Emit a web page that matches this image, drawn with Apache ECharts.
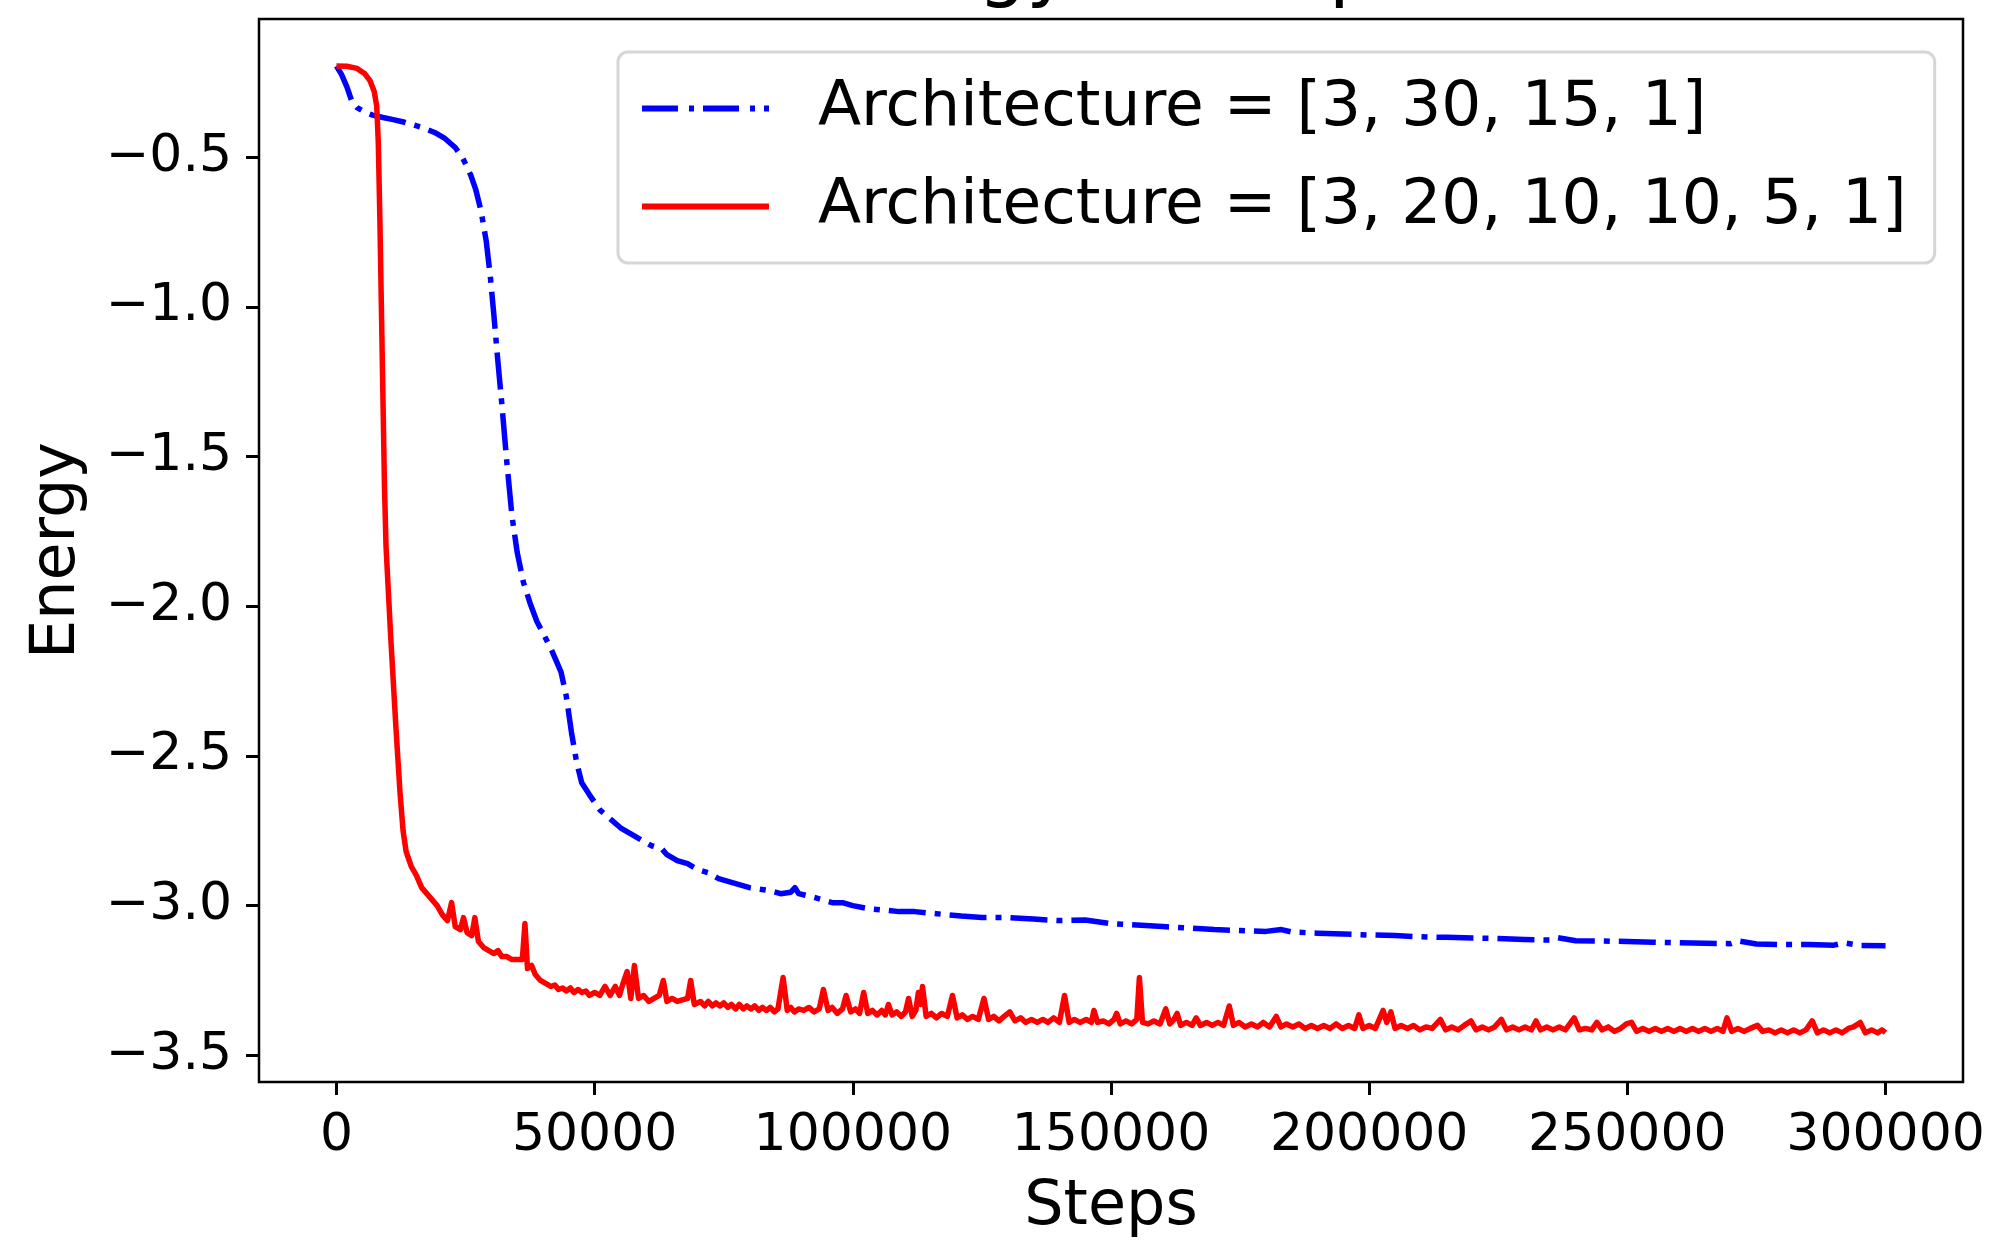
<!DOCTYPE html>
<html>
<head>
<meta charset="utf-8">
<script src="https://cdn.jsdelivr.net/npm/echarts@6/dist/echarts.min.js"></script>
<style>
  body { margin: 0; background: #fff; }
  #energyChart { width: 1999px; height: 1244px; }
</style>
</head>
<body>
<div id="energyChart"></div>
<script>
var xTicks = [0, 50000, 100000, 150000, 200000, 250000, 300000];
var yTicks = [-3.5, -3.0, -2.5, -2.0, -1.5, -1.0, -0.5];

var blueName = 'Architecture = [3, 30, 15, 1]';
var redName = 'Architecture = [3, 20, 10, 10, 5, 1]';

// [step, energy] for [3, 30, 15, 1]
var bluePoints = [
	[0, -0.196], [1000, -0.225], [2000, -0.265], [3000, -0.315], [4000, -0.335],
	[5500, -0.35], [7000, -0.36], [9000, -0.368], [11000, -0.375], [13000, -0.383],
	[15000, -0.393], [17000, -0.404], [19000, -0.418], [21000, -0.438], [23000, -0.468],
	[24500, -0.505], [26000, -0.56], [27000, -0.61], [28000, -0.68], [29000, -0.78],
	[29800, -0.9], [30500, -1.03], [31200, -1.17], [32000, -1.32], [33000, -1.52],
	[34000, -1.7], [35000, -1.82], [36200, -1.92], [37500, -1.99], [38800, -2.05],
	[40000, -2.09], [41500, -2.14], [42500, -2.18], [43500, -2.22], [44500, -2.3],
	[45500, -2.42], [46500, -2.52], [47500, -2.59], [49000, -2.63], [51000, -2.68],
	[53000, -2.71], [55000, -2.74], [57000, -2.76], [59000, -2.78], [61000, -2.8],
	[63000, -2.81], [64000, -2.83], [66000, -2.85], [68000, -2.86], [70000, -2.88],
	[72000, -2.89], [74000, -2.91], [76000, -2.92], [78000, -2.93], [80000, -2.94],
	[82000, -2.945], [84000, -2.95], [86000, -2.96], [88000, -2.955], [88800, -2.94],
	[89500, -2.96], [92000, -2.97], [94000, -2.98], [96000, -2.99], [98000, -2.99],
	[100000, -3.0], [103000, -3.01], [106000, -3.015], [109000, -3.02], [112000, -3.02],
	[115000, -3.025], [118000, -3.03], [121000, -3.035], [125000, -3.04], [130000, -3.04],
	[135000, -3.045], [140000, -3.05], [145000, -3.048], [150000, -3.06], [155000, -3.065],
	[160000, -3.07], [165000, -3.075], [170000, -3.08], [175000, -3.083], [180000, -3.086],
	[183000, -3.08], [185000, -3.088], [190000, -3.092], [195000, -3.095], [200000, -3.098],
	[205000, -3.1], [210000, -3.104], [215000, -3.106], [220000, -3.108], [225000, -3.11],
	[230000, -3.113], [235000, -3.115], [236500, -3.107], [240000, -3.117], [245000, -3.118],
	[250000, -3.12], [255000, -3.122], [260000, -3.124], [265000, -3.126], [270000, -3.127],
	[271500, -3.118], [275000, -3.128], [280000, -3.13], [285000, -3.13], [290000, -3.132],
	[292000, -3.124], [295000, -3.133], [300000, -3.134]
];

// [step, energy] for [3, 20, 10, 10, 5, 1]
var redPoints = [
	[0, -0.196], [2000, -0.197], [4000, -0.204], [5500, -0.222], [6500, -0.245],
	[7300, -0.28], [7800, -0.33], [8100, -0.45], [8400, -0.7], [8700, -1.0],
	[9000, -1.3], [9300, -1.6], [9600, -1.8], [10500, -2.1], [11500, -2.4],
	[12300, -2.62], [12900, -2.75], [13500, -2.82], [14500, -2.87], [15500, -2.9],
	[16500, -2.94], [17500, -2.96], [18500, -2.98], [19500, -3.0], [20500, -3.03],
	[21500, -3.05], [22300, -2.99], [23000, -3.07], [24000, -3.08], [24600, -3.04],
	[25300, -3.09], [26200, -3.1], [26800, -3.04], [27500, -3.12], [28500, -3.14],
	[29500, -3.15], [30500, -3.16], [31300, -3.15], [32000, -3.17], [33000, -3.17],
	[34000, -3.18], [35000, -3.18], [36000, -3.18], [36500, -3.06], [37000, -3.21],
	[37800, -3.2], [38500, -3.23], [39500, -3.25], [40500, -3.26], [41500, -3.27],
	[42300, -3.265], [43000, -3.28], [43800, -3.275], [44500, -3.285], [45300, -3.275],
	[46000, -3.29], [46800, -3.28], [47500, -3.29], [48300, -3.285], [49000, -3.3],
	[50000, -3.29], [51000, -3.3], [52000, -3.27], [53000, -3.3], [54000, -3.27],
	[54800, -3.3], [55500, -3.26], [56300, -3.22], [57000, -3.31], [57700, -3.2],
	[58500, -3.31], [59500, -3.3], [60500, -3.32], [61500, -3.31], [62500, -3.3],
	[63300, -3.25], [64000, -3.32], [65000, -3.31], [66000, -3.32], [67000, -3.315],
	[68000, -3.31], [68600, -3.25], [69300, -3.33], [70500, -3.32], [71300, -3.335],
	[72000, -3.32], [72800, -3.335], [73500, -3.325], [74300, -3.335], [75000, -3.325],
	[75800, -3.34], [76500, -3.33], [77300, -3.345], [78000, -3.33], [78800, -3.345],
	[79500, -3.335], [80300, -3.345], [81000, -3.335], [81800, -3.35], [82500, -3.34],
	[83300, -3.35], [84000, -3.34], [84800, -3.355], [85500, -3.345], [86500, -3.24],
	[87300, -3.35], [88000, -3.34], [88700, -3.355], [89500, -3.345], [90500, -3.35],
	[91500, -3.34], [92500, -3.355], [93500, -3.345], [94300, -3.28], [95200, -3.35],
	[96000, -3.34], [97000, -3.36], [98000, -3.345], [98700, -3.3], [99600, -3.355],
	[100500, -3.345], [101300, -3.36], [102100, -3.29], [102900, -3.36], [103800, -3.35],
	[104700, -3.365], [105600, -3.35], [106300, -3.365], [106900, -3.33], [107600, -3.365],
	[108500, -3.355], [109400, -3.37], [110200, -3.355], [110800, -3.31], [111500, -3.37],
	[112200, -3.35], [112700, -3.29], [113100, -3.33], [113500, -3.27], [114200, -3.37],
	[115200, -3.36], [116200, -3.375], [117200, -3.36], [118300, -3.37], [119300, -3.3],
	[120200, -3.375], [121200, -3.365], [122200, -3.38], [123200, -3.37], [124300, -3.38],
	[125400, -3.31], [126300, -3.38], [127300, -3.37], [128300, -3.385], [129300, -3.37],
	[130400, -3.355], [131400, -3.385], [132500, -3.375], [133500, -3.39], [134600, -3.38],
	[135700, -3.39], [136800, -3.38], [137800, -3.39], [138900, -3.375], [140000, -3.39],
	[141000, -3.3], [141900, -3.39], [142900, -3.38], [144000, -3.39], [145200, -3.38],
	[146200, -3.39], [146700, -3.35], [147400, -3.39], [148500, -3.385], [149600, -3.395],
	[150600, -3.38], [151100, -3.36], [151800, -3.395], [152900, -3.385], [154000, -3.395],
	[155000, -3.38], [155500, -3.24], [156100, -3.39], [157200, -3.395], [158300, -3.385],
	[159500, -3.395], [160600, -3.345], [161400, -3.395], [162200, -3.38], [162800, -3.36],
	[163500, -3.4], [164600, -3.39], [165700, -3.4], [166500, -3.375], [167300, -3.4],
	[168500, -3.39], [169600, -3.4], [170700, -3.39], [171800, -3.4], [172900, -3.335],
	[173700, -3.4], [174800, -3.39], [176000, -3.405], [177200, -3.395], [178400, -3.405],
	[179500, -3.39], [180700, -3.405], [182000, -3.37], [182900, -3.405], [184000, -3.395],
	[185200, -3.405], [186400, -3.395], [187600, -3.41], [188800, -3.4], [190000, -3.41],
	[191200, -3.4], [192400, -3.41], [193600, -3.395], [194800, -3.41], [196000, -3.4],
	[197200, -3.41], [198000, -3.365], [198800, -3.41], [200000, -3.4], [201200, -3.41],
	[202700, -3.35], [203400, -3.39], [204200, -3.355], [205000, -3.41], [206200, -3.4],
	[207400, -3.41], [208600, -3.4], [209800, -3.415], [211000, -3.405], [212200, -3.41],
	[213800, -3.38], [214800, -3.415], [216000, -3.405], [217200, -3.415], [218400, -3.4],
	[219700, -3.385], [220700, -3.415], [221900, -3.405], [223100, -3.415], [224300, -3.405],
	[225600, -3.38], [226600, -3.415], [227800, -3.405], [229000, -3.415], [230200, -3.405],
	[231400, -3.415], [232300, -3.385], [233200, -3.415], [234400, -3.405], [235600, -3.415],
	[236800, -3.405], [238000, -3.415], [239700, -3.375], [240700, -3.415], [241900, -3.41],
	[243100, -3.415], [244100, -3.39], [245100, -3.415], [246300, -3.405], [247500, -3.42],
	[248700, -3.41], [249800, -3.395], [250800, -3.39], [251800, -3.42], [253000, -3.41],
	[254200, -3.42], [255400, -3.41], [256600, -3.42], [257800, -3.41], [259000, -3.42],
	[260200, -3.41], [261400, -3.42], [262600, -3.41], [263800, -3.42], [265000, -3.41],
	[266200, -3.42], [267400, -3.41], [268500, -3.42], [269300, -3.375], [270200, -3.42],
	[271400, -3.41], [272600, -3.42], [273800, -3.41], [275200, -3.4], [276200, -3.42],
	[277400, -3.415], [278600, -3.425], [279800, -3.415], [281000, -3.425], [282200, -3.415],
	[283400, -3.425], [284600, -3.415], [285800, -3.385], [286800, -3.425], [288000, -3.415],
	[289200, -3.425], [290400, -3.415], [291600, -3.425], [292800, -3.41], [293800, -3.405],
	[295100, -3.39], [296100, -3.425], [297300, -3.415], [298500, -3.425], [299300, -3.415],
	[300000, -3.424]
];

$ready();

function $ready() {
	var myChart = echarts.init(document.getElementById('energyChart'));
	var font = 'DejaVu Sans';
	var tickLine = { color: '#000', width: 3 };

	var option = {
		animation: false,
		backgroundColor: '#fff',
		graphic: [{
			type: 'text',
			x: 1111,
			y: 10,
			z: 10,
			style: {
				text: 'Energy vs Steps',
				fontFamily: font,
				fontSize: 76,
				fill: '#000',
				align: 'center',
				verticalAlign: 'bottom'
			}
		}],
		grid: {
			left: 259,
			top: 19,
			width: 1704,
			height: 1072,
			show: true,
			borderColor: '#000',
			borderWidth: 2.5,
			backgroundColor: '#fff'
		},
		legend: {
			data: [
				{ name: blueName, icon: 'path://M0,0H36V6H0Z M47,0H52V6H47Z M61,0H97V6H61Z M108,0H113V6H108Z M122,0H127V6H122Z' },
				{ name: redName, icon: 'path://M0,0H127V6H0Z' }
			],
			orient: 'vertical',
			left: 618,
			top: 52,
			padding: [25, 28, 25, 24],
			itemWidth: 127,
			itemHeight: 6,
			itemGap: 35,
			backgroundColor: 'rgba(255,255,255,0.8)',
			borderColor: '#d6d6d6',
			borderWidth: 3,
			borderRadius: 10,
			textStyle: {
				fontFamily: font,
				fontSize: 63,
				color: '#000',
				padding: [0, 0, 0, 44]
			}
		},
		xAxis: {
			type: 'value',
			min: -15000,
			max: 315000,
			axisLine: { show: false, onZero: false },
			splitLine: { show: false },
			axisTick: { show: true, customValues: xTicks, length: 13, lineStyle: tickLine },
			axisLabel: {
				customValues: xTicks,
				margin: 28,
				fontFamily: font,
				fontSize: 52,
				color: '#000',
				formatter: function (v) {
					return String(v);
				}
			},
			name: 'Steps',
			nameLocation: 'middle',
			nameGap: 95,
			nameTextStyle: { fontFamily: font, fontSize: 62, color: '#000' }
		},
		yAxis: {
			type: 'value',
			min: -3.589,
			max: -0.039,
			axisLine: { show: false, onZero: false },
			splitLine: { show: false },
			axisTick: { show: true, customValues: yTicks, length: 13, lineStyle: tickLine },
			axisLabel: {
				customValues: yTicks,
				margin: 27,
				fontFamily: font,
				fontSize: 52,
				color: '#000',
				padding: [9, 0, 0, 0],
				formatter: function (v) {
					return v.toFixed(1).replace('-', '\u2212');
				}
			},
			name: 'Energy',
			nameLocation: 'middle',
			nameRotate: 90,
			nameGap: 170,
			nameTextStyle: { fontFamily: font, fontSize: 62, color: '#000' }
		},
		series: [
			{
				name: blueName,
				type: 'line',
				data: bluePoints,
				symbol: 'none',
				showSymbol: false,
				z: 2,
				itemStyle: { color: '#0000ff' },
				lineStyle: { color: '#0000ff', width: 5.5, type: [37, 9, 6, 9], cap: 'butt', join: 'round' },
				emphasis: { disabled: true }
			},
			{
				name: redName,
				type: 'line',
				data: redPoints,
				symbol: 'none',
				showSymbol: false,
				z: 3,
				itemStyle: { color: '#ff0000' },
				lineStyle: { color: '#ff0000', width: 5.5, cap: 'butt', join: 'round' },
				emphasis: { disabled: true }
			}
		]
	};
	myChart.clear();
	myChart.setOption(option);
}
</script>
</body>
</html>
